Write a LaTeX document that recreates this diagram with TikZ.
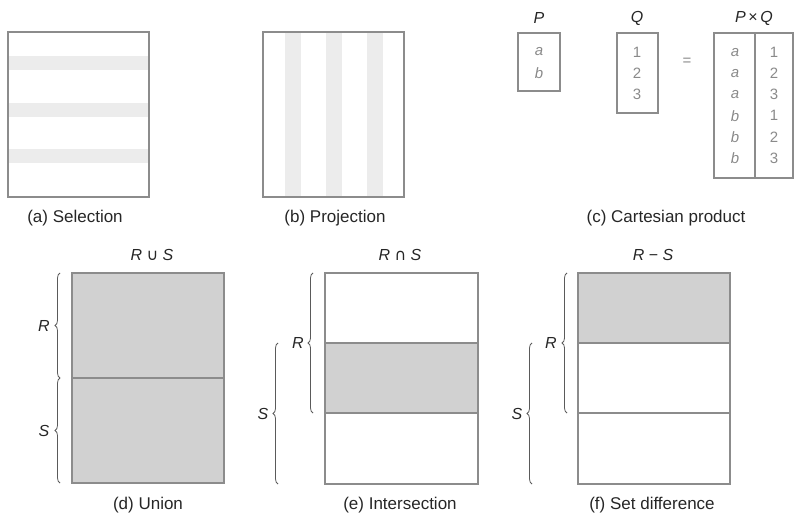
\documentclass[tikz,border=0pt]{standalone}
\usepackage{fontspec}
\setmainfont{Liberation Sans}
\newfontfamily\symfont{DejaVu Sans}
\usetikzlibrary{decorations.pathreplacing}
\definecolor{edgegray}{HTML}{8C8C8C}
\definecolor{stripegray}{HTML}{ECECEC}
\definecolor{fillgray}{HTML}{D1D1D1}
\definecolor{textgray}{HTML}{8A8A8A}
\definecolor{bracegray}{HTML}{5A5A5A}
\tikzset{
  relbox/.style={draw=edgegray,line width=1.4pt},
  caption/.style={font=\fontsize{17}{17}\selectfont,text=black!85},
  setname/.style={font=\fontsize{16}{16}\selectfont\itshape,text=black!85},
  cell/.style={font=\fontsize{15}{15}\selectfont,text=textgray},
  setbrace/.style={draw=bracegray,line width=0.8pt,decorate,
    decoration={brace,amplitude=5pt}}
}
\begin{document}
\begin{tikzpicture}[x=1pt,y=-1pt]
  \useasboundingbox (0,0) rectangle (794,518);

  % (a) Selection
  \foreach \y in {56,103,149} {
    \fill[stripegray] (8,\y) rectangle (149,\y+14);
  }
  \draw[relbox] (8,32) rectangle (149,197);
  \node[caption] (capA) at (75,218) {(a) Selection};

  % (b) Projection
  \foreach \x in {285,326,367} {
    \fill[stripegray] (\x,32) rectangle (\x+16,197);
  }
  \draw[relbox] (263,32) rectangle (404,197);
  \node[caption] (capB) at (335,218) {(b) Projection};

  % (c) Cartesian product
  \node[setname] (nameP) at (539,18) {P};
  \node[setname] (nameQ) at (637,18) {Q};
  \node[setname] (namePQ) at (754,18) {P\,{\upshape×}\,Q};
  \draw[relbox] (518,33) rectangle (560,91);
  \draw[relbox] (617,33) rectangle (658,113);
  \draw[relbox] (714,33) rectangle (793,178);
  \draw[relbox] (755,33) -- (755,178);
  \node[cell] (pa) at (539,52) {\itshape a};
  \node[cell] (pb) at (539,73) {\itshape b};
  \foreach \v [count=\i] in {1,2,3} {
    \node[cell] (q\i) at (637,31+21*\i) {\v};
  }
  \node[cell] (eq) at (687,62) {=};
  \foreach \l/\v [count=\i] in {a/1,a/2,a/3,b/1,b/2,b/3} {
    \node[cell] (l\i) at (735,31+21.2*\i) {\itshape\l};
    \node[cell] (r\i) at (774,31+21.2*\i) {\v};
  }
  \node[caption] (capC) at (666,218) {(c) Cartesian product};

  % (d) Union
  \fill[fillgray] (72,273) rectangle (224,483);
  \draw[relbox] (72,273) rectangle (224,483);
  \draw[relbox] (72,378) -- (224,378);
  \node[setname] (titleD) at (152,255) {R {\upshape\symfont ∪} S};
  \draw[setbrace] (60,378) -- (60,273);
  \draw[setbrace] (60,483) -- (60,378);
  \node[setname] (rD) at (44,326) {R};
  \node[setname] (sD) at (44,431) {S};
  \node[caption] (capD) at (148,505) {(d) Union};

  % (e) Intersection
  \fill[fillgray] (325,343) rectangle (478,413);
  \draw[relbox] (325,273) rectangle (478,484);
  \draw[relbox] (325,343) -- (478,343);
  \draw[relbox] (325,413) -- (478,413);
  \node[setname] (titleE) at (400,255) {R {\upshape\symfont ∩} S};
  \draw[setbrace] (313,413) -- (313,273);
  \draw[setbrace] (278,484) -- (278,343);
  \node[setname] (rE) at (298,343) {R};
  \node[setname] (sE) at (263,414) {S};
  \node[caption] (capE) at (400,505) {(e) Intersection};

  % (f) Set difference
  \fill[fillgray] (578,273) rectangle (730,343);
  \draw[relbox] (578,273) rectangle (730,484);
  \draw[relbox] (578,343) -- (730,343);
  \draw[relbox] (578,413) -- (730,413);
  \node[setname] (titleF) at (653,255) {R {\upshape−} S};
  \draw[setbrace] (567,413) -- (567,273);
  \draw[setbrace] (532,484) -- (532,343);
  \node[setname] (rF) at (551,343) {R};
  \node[setname] (sF) at (517,414) {S};
  \node[caption] (capF) at (652,505) {(f) Set difference};
\end{tikzpicture}
\end{document}
